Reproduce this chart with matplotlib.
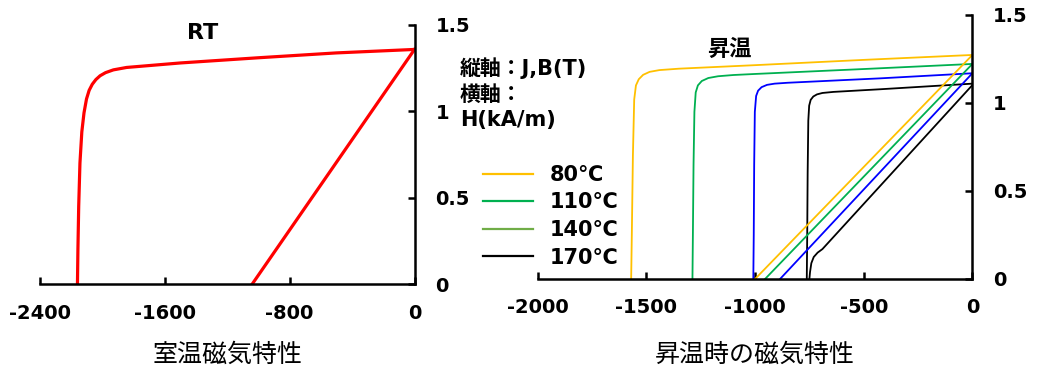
import matplotlib
matplotlib.use("Agg")
import matplotlib.pyplot as plt
from matplotlib.lines import Line2D

plt.rcParams['font.family'] = ['DejaVu Sans', 'Noto Sans CJK JP']

# ---------------- data ----------------
# Room temperature (RT) demagnetization curves, H in kA/m
rt_j_h = [0, -500, -1000, -1500, -1845, -1930, -1980, -2015, -2042, -2065,
          -2085, -2102, -2118, -2132, -2144, -2152, -2157, -2160]
rt_j = [1.356, 1.336, 1.308, 1.278, 1.252, 1.238, 1.222, 1.204, 1.182, 1.155,
        1.120, 1.070, 0.990, 0.880, 0.700, 0.450, 0.200, 0.0]
rt_b_h = [0, -1041]
rt_b = [1.356, 0.0]

# Elevated temperature curves
temps = ['80℃', '110℃', '140℃', '170℃']
curve_colors = ['#FFC000', '#00B050', '#0000FF', '#000000']
legend_colors = ['#FFC000', '#00B050', '#70AD47', '#000000']

j80_h = [0, -500, -1000, -1350, -1440, -1485, -1515, -1535, -1548, -1556,
         -1562, -1567, -1570]
j80 = [1.273, 1.245, 1.215, 1.195, 1.187, 1.177, 1.160, 1.135, 1.100, 1.020,
       0.700, 0.250, 0.0]
j110_h = [0, -500, -1000, -1100, -1170, -1215, -1245, -1263, -1273, -1279,
          -1283, -1286, -1288]
j110 = [1.222, 1.193, 1.165, 1.159, 1.152, 1.142, 1.125, 1.100, 1.060, 0.950,
        0.650, 0.250, 0.0]
j140_h = [0, -425, -850, -910, -945, -970, -986, -995, -1001, -1004, -1006,
          -1008]
j140 = [1.169, 1.140, 1.115, 1.110, 1.103, 1.090, 1.070, 1.040, 0.950, 0.650,
        0.250, 0.0]
j170_h = [0, -425, -640, -690, -715, -732, -744, -751, -755, -758, -760, -762]
j170 = [1.110, 1.078, 1.063, 1.057, 1.049, 1.037, 1.018, 0.985, 0.900, 0.600,
        0.250, 0.0]

b80_h = [0, -1000]
b80 = [1.273, 0.0]
b110_h = [0, -954]
b110 = [1.222, 0.0]
b140_h = [0, -885]
b140 = [1.169, 0.0]
b170_h = [0, -690, -712, -730, -741, -747, -750]
b170 = [1.102, 0.170, 0.150, 0.125, 0.090, 0.040, 0.0]

j_curves = [(j80_h, j80), (j110_h, j110), (j140_h, j140), (j170_h, j170)]
b_curves = [(b80_h, b80), (b110_h, b110), (b140_h, b140), (b170_h, b170)]

left_xticks = [-2400, -1600, -800, 0]
right_xticks = [-2000, -1500, -1000, -500, 0]
yticks = [0, 0.5, 1, 1.5]
ytick_labels = ['0', '0.5', '1', '1.5']

# ---------------- figure ----------------
W, H = 1042, 380
fig = plt.figure(figsize=(W / 100, H / 100), dpi=100)


def px_rect(x0, y0, x1, y1):
    return [x0 / W, 1 - y1 / H, (x1 - x0) / W, (y1 - y0) / H]


def style_axes(ax, xlim, xticks):
    ax.set_xlim(*xlim)
    ax.set_ylim(0, 1.5)
    for s in ['top', 'left']:
        ax.spines[s].set_visible(False)
    for s in ['bottom', 'right']:
        ax.spines[s].set_linewidth(1.8)
    ax.yaxis.tick_right()
    ax.set_xticks(xticks)
    ax.set_xticklabels([str(t) for t in xticks])
    ax.set_yticks(yticks)
    ax.set_yticklabels(ytick_labels)
    ax.tick_params(axis='both', direction='in', length=5, width=1.8,
                   labelsize=14)
    ax.tick_params(axis='x', pad=14)
    ax.tick_params(axis='y', pad=15)
    for lab in ax.get_xticklabels() + ax.get_yticklabels():
        lab.set_fontweight('bold')


axL = fig.add_axes(px_rect(40, 24.5, 414.5, 284.3))
axL.plot(rt_j_h, rt_j, color='#FF0000', lw=2.3)
axL.plot(rt_b_h, rt_b, color='#FF0000', lw=2.3)
style_axes(axL, (-2400, 0), left_xticks)

axR = fig.add_axes(px_rect(537.7, 15, 972.4, 279))
for (hh, jj), c in zip(j_curves, curve_colors):
    axR.plot(hh, jj, color=c, lw=1.3)
for (hh, bb), c in zip(b_curves, curve_colors):
    axR.plot(hh, bb, color=c, lw=1.3)
style_axes(axR, (-2000, 0), right_xticks)

handles = [Line2D([], [], color=c, lw=1.6) for c in legend_colors]
leg = axR.legend(handles, temps, loc='upper left',
                 bbox_to_anchor=(483 / W, 1 - 165 / H),
                 bbox_transform=fig.transFigure, frameon=False,
                 prop={'size': 15, 'weight': 'bold'},
                 handlelength=2.4, handletextpad=0.8, labelspacing=0.36,
                 borderpad=0, borderaxespad=0)

# titles and labels
fig.text(203 / W, 1 - 33 / H, 'RT', ha='center', va='center',
         fontsize=16, fontweight='bold')
fig.text(729 / W, 1 - 49 / H, '昇温', ha='center', va='center',
         fontsize=16, fontweight='bold')
fig.text(228 / W, 1 - 355 / H, '室温磁気特性', ha='center', va='center',
         fontsize=18)
fig.text(755 / W, 1 - 355 / H, '昇温時の磁気特性', ha='center', va='center',
         fontsize=18)

for txt, yc in [('縦軸：J,B(T)', 68), ('横軸：', 95), ('H(kA/m)', 120)]:
    fig.text(460 / W, 1 - yc / H, txt, ha='left', va='center',
             fontsize=15, fontweight='bold')

fig.savefig('out.png', dpi=100)
